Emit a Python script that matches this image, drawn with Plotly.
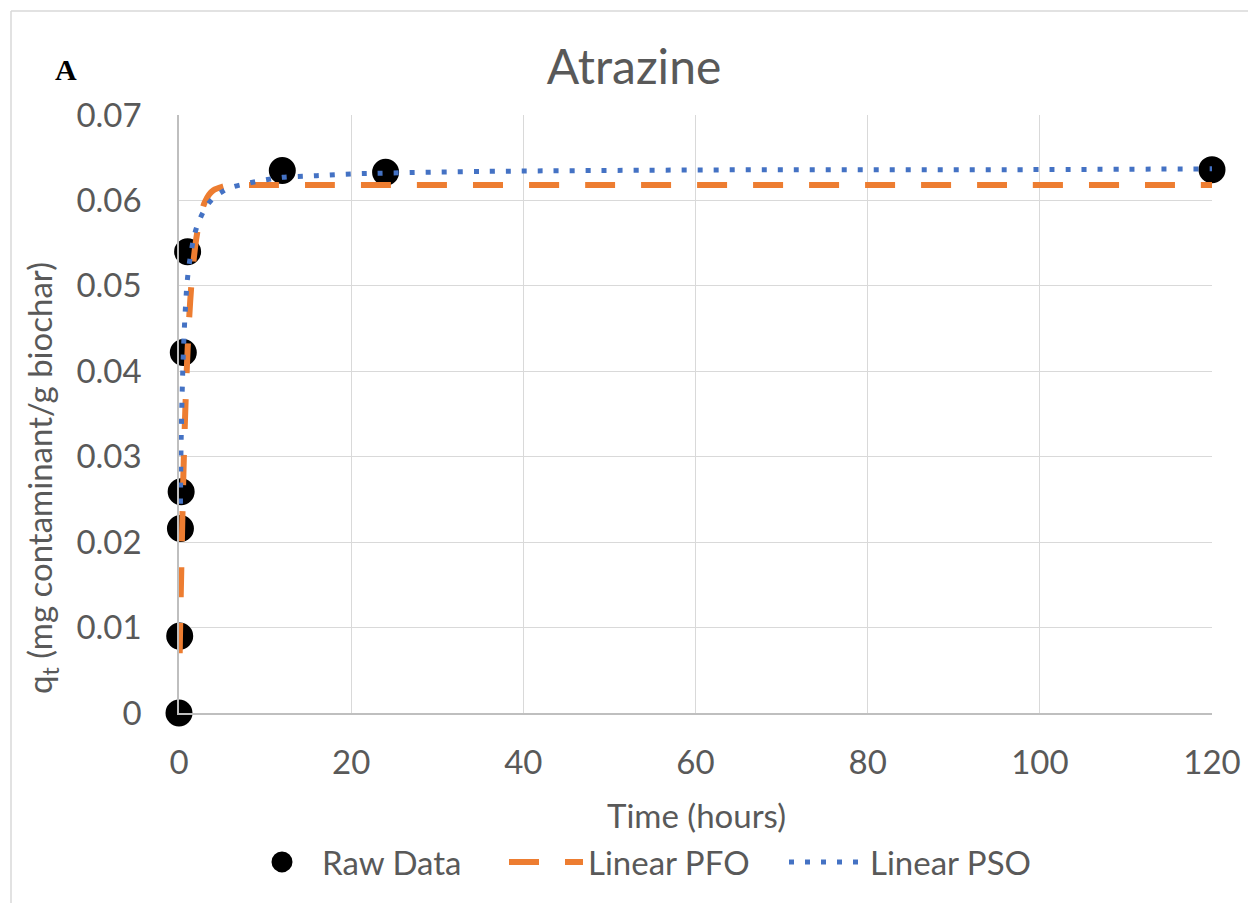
import plotly.graph_objects as go

# Raw data
raw_time = [0, 0.083, 0.167, 0.25, 0.5, 1.0, 12, 24, 120]
raw_q = [0.0, 0.0090, 0.0216, 0.0259, 0.0422, 0.0540, 0.0635, 0.0633, 0.0636]

# Linear PFO fit
pfo_time = [0.083, 0.167, 0.25, 0.5, 0.75, 1.0, 1.3, 1.6, 2.0, 2.5, 3.0, 3.5, 4.0, 5.0, 6.0, 8.0, 12, 24, 48, 72, 96, 120]
pfo_q = [0.0070, 0.0120, 0.0160, 0.0275, 0.0360, 0.0425, 0.0482, 0.0520, 0.0555, 0.0582, 0.0598, 0.0607, 0.0612, 0.0616, 0.0618, 0.0618, 0.0618, 0.0618, 0.0618, 0.0618, 0.0618, 0.0618]

# Linear PSO fit
pso_time = [0.167, 0.25, 0.5, 0.75, 1.0, 1.5, 2.0, 3.0, 4.0, 5.0, 6.0, 8.0, 10, 12, 16, 20, 24, 36, 48, 72, 96, 120]
pso_q = [0.0245, 0.0320, 0.0420, 0.0475, 0.0510, 0.0545, 0.0567, 0.0590, 0.0603, 0.0610, 0.0615, 0.0620, 0.0624, 0.0627, 0.0629, 0.0631, 0.0632, 0.0634, 0.0635, 0.0636, 0.0636, 0.0637]

x_ticks = [0, 20, 40, 60, 80, 100, 120]
y_ticks = [0, 0.01, 0.02, 0.03, 0.04, 0.05, 0.06, 0.07]
y_tick_text = ["0", "0.01", "0.02", "0.03", "0.04", "0.05", "0.06", "0.07"]

FONT = "Lato"
GREY = "#595959"
FS = 33

L, R, T, B = 179, 1212, 115, 713
W, H = 1248, 903

def px(xp):
    return (xp - L) / (R - L)

def py(yp):
    return (B - yp) / (B - T)

fig = go.Figure()
fig.add_trace(go.Scatter(x=raw_time, y=raw_q, mode="markers", name="Raw Data", legend="legend",
                         marker=dict(color="black", size=22, line=dict(color="black", width=5)),
                         cliponaxis=False))
fig.add_trace(go.Scatter(x=pfo_time, y=pfo_q, mode="lines", name="Linear PFO", legend="legend2",
                         line=dict(color="#ED7D31", width=6, dash="30px,26px", shape="spline")))
fig.add_trace(go.Scatter(x=pso_time, y=pso_q, mode="lines", name="Linear PSO", legend="legend3",
                         line=dict(color="#4472C4", width=5, dash="5px,11px", shape="spline")))

def leg(xstart, iw):
    return dict(orientation="h", x=px(xstart), xanchor="left", y=py(862), yanchor="middle",
                font=dict(size=FS, color=GREY), bgcolor="rgba(0,0,0,0)", itemwidth=iw,
                borderwidth=0)

fig.update_layout(
    width=W, height=H,
    margin=dict(l=L, r=W - R, t=T, b=H - B, autoexpand=False),
    paper_bgcolor="white", plot_bgcolor="white",
    font=dict(family=FONT, color=GREY, size=FS),
    showlegend=True,
    legend=leg(242, 70),
    legend2=leg(504, 74),
    legend3=leg(784, 76),
    title=dict(text="Atrazine", xref="container", yref="container",
               x=634 / W, y=1 - 67 / H, xanchor="center", yanchor="middle",
               font=dict(size=48, color=GREY, family=FONT)),
    xaxis=dict(range=[0, 120], tickvals=x_ticks, ticktext=[str(v) for v in x_ticks],
               showgrid=True, gridcolor="#d9d9d9", gridwidth=1.3, automargin=False,
               zeroline=False, showline=True, linecolor="#bfbfbf", linewidth=1.5,
               ticks="", tickfont=dict(size=FS, color=GREY), ticklabelstandoff=20),
    yaxis=dict(range=[0, 0.07], tickvals=y_ticks, ticktext=y_tick_text,
               showgrid=True, gridcolor="#d9d9d9", gridwidth=1.3, automargin=False,
               zeroline=False, showline=True, linecolor="#bfbfbf", linewidth=1.5,
               ticks="", tickfont=dict(size=FS, color=GREY), ticklabelstandoff=29),
)

fig.add_annotation(text="Time (hours)", xref="paper", yref="paper",
                   x=px(696), y=py(815), showarrow=False,
                   font=dict(size=FS, color=GREY), xanchor="center", yanchor="middle")
fig.add_annotation(text="q<sub>t</sub> (mg contaminant/g biochar)", xref="paper", yref="paper",
                   x=px(42), y=py(478), textangle=-90, showarrow=False,
                   font=dict(size=FS, color=GREY), xanchor="center", yanchor="middle")
fig.add_annotation(text="<b>A</b>", xref="paper", yref="paper", x=px(66), y=py(70),
                   showarrow=False, font=dict(size=30, color="black", family="Liberation Serif"),
                   xanchor="center", yanchor="middle")

# chart border (left and top edges)
fig.add_shape(type="line", xref="paper", yref="paper", x0=px(11), x1=px(11), y0=py(11), y1=py(910),
              line=dict(color="#d9d9d9", width=1.5))
fig.add_shape(type="line", xref="paper", yref="paper", x0=px(11), x1=px(1260), y0=py(11), y1=py(11),
              line=dict(color="#d9d9d9", width=1.5))

fig.write_html("out.html")
